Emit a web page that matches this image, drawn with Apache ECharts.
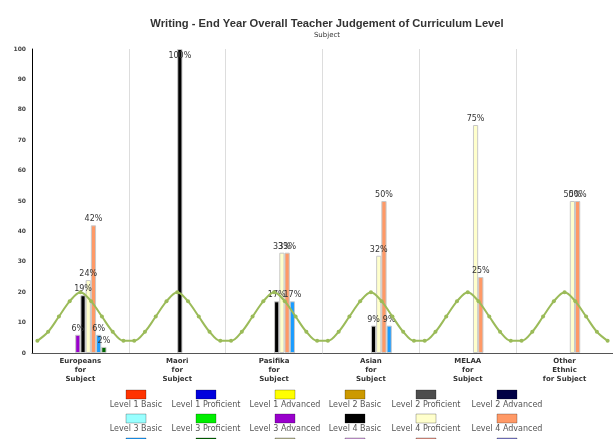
<!DOCTYPE html>
<html>
<head>
<meta charset="utf-8">
<script src="https://cdn.jsdelivr.net/npm/echarts@6/dist/echarts.min.js"></script>
<style>
  html, body { margin: 0; padding: 0; background: #fff; }
  #chart { width: 613px; height: 439px; }
</style>
</head>
<body>
<div id="chart"></div>
<script>
// Ethnic groups along the x axis
const categories = [
  'Europeans\nfor\nSubject',
  'Maori\nfor\nSubject',
  'Pasifika\nfor\nSubject',
  'Asian\nfor\nSubject',
  'MELAA\nfor\nSubject',
  'Other\nEthnic\nfor Subject'
];

// Curriculum levels (legend order) and their colours
const levelNames = [
  'Level 1 Basic', 'Level 1 Proficient', 'Level 1 Advanced',
  'Level 2 Basic', 'Level 2 Proficient', 'Level 2 Advanced',
  'Level 3 Basic', 'Level 3 Proficient', 'Level 3 Advanced',
  'Level 4 Basic', 'Level 4 Proficient', 'Level 4 Advanced',
  'Level 5 Basic', 'Level 5 Proficient', 'Level 5 Advanced',
  'Level 6 Basic', 'Level 6 Proficient', 'Level 6 Advanced'
];
const levelColors = [
  '#ff3300', '#0000dd', '#ffff00',
  '#cc9900', '#4d4d4d', '#000044',
  '#99ffff', '#00ee00', '#9900cc',
  '#000000', '#ffffcc', '#ff9966',
  '#1a9cff', '#006600', '#b3b38c',
  '#cc99d9', '#e08f80', '#7a7acc'
];

// Percentage of students at each level, per ethnic group
const level1Basic       = [0, 0, 0, 0, 0, 0];
const level1Proficient  = [0, 0, 0, 0, 0, 0];
const level1Advanced    = [0, 0, 0, 0, 0, 0];
const level2Basic       = [0, 0, 0, 0, 0, 0];
const level2Proficient  = [0, 0, 0, 0, 0, 0];
const level2Advanced    = [0, 0, 0, 0, 0, 0];
const level3Basic       = [0, 0, 0, 0, 0, 0];
const level3Proficient  = [0, 0, 0, 0, 0, 0];
const level3Advanced    = [6, 0, 0, 0, 0, 0];
const level4Basic       = [19, 100, 17, 9, 0, 0];
const level4Proficient  = [24, 0, 33, 32, 75, 50];
const level4Advanced    = [42, 0, 33, 50, 25, 50];
const level5Basic       = [6, 0, 17, 9, 0, 0];
const level5Proficient  = [2, 0, 0, 0, 0, 0];
const level5Advanced    = [0, 0, 0, 0, 0, 0];
const level6Basic       = [0, 0, 0, 0, 0, 0];
const level6Proficient  = [0, 0, 0, 0, 0, 0];
const level6Advanced    = [0, 0, 0, 0, 0, 0];

const levelValues = [
  level1Basic, level1Proficient, level1Advanced,
  level2Basic, level2Proficient, level2Advanced,
  level3Basic, level3Proficient, level3Advanced,
  level4Basic, level4Proficient, level4Advanced,
  level5Basic, level5Proficient, level5Advanced,
  level6Basic, level6Proficient, level6Advanced
];

// Background wave line, nine points per ethnic group
const waveValues = [
  4, 7, 12, 17, 20, 17, 12, 7, 4,
  4, 7, 12, 17, 20, 17, 12, 7, 4,
  4, 7, 12, 17, 20, 17, 12, 7, 4,
  4, 7, 12, 17, 20, 17, 12, 7, 4,
  4, 7, 12, 17, 20, 17, 12, 7, 4,
  4, 7, 12, 17, 20, 17, 12, 7, 4
];

// Y axis tick values
const yTicks = { min: 0, max: 100, interval: 10 };

const chart = echarts.init(document.getElementById('chart'), null, { renderer: 'canvas' });

const barSeries = levelNames.map((name, i) => ({
  name: name,
  type: 'bar',
  xAxisIndex: 0,
  yAxisIndex: 0,
  barGap: '0%',
  barCategoryGap: '3%',
  itemStyle: { color: levelColors[i], borderColor: '#c8c8c8', borderWidth: 1 },
  label: {
    show: true,
    position: 'top',
    distance: 2,
    color: '#333',
    fontFamily: 'DejaVu Sans',
    fontSize: 8,
    formatter: p => (p.value ? p.value + '%' : '')
  },
  data: levelValues[i].map(v => {
    if (!v) return '-';
    if (v >= 95) return { value: v, label: { position: 'insideTop', distance: 3 } };
    return v;
  }),
  z: 2
}));

const waveSeries = {
  name: 'wave',
  type: 'line',
  xAxisIndex: 1,
  yAxisIndex: 0,
  smooth: 0.35,
  symbol: 'circle',
  symbolSize: 4,
  lineStyle: { color: '#9bbb59', width: 2 },
  itemStyle: { color: '#9bbb59' },
  data: waveValues,
  z: 5,
  silent: true
};

// Legend drawn as swatch-above-text cells in a 6-column grid
const legendCols = [136, 206, 285, 355, 426, 507];
const legendTop = 390;
const legendRowGap = 24;
const legendGraphics = [];
levelNames.forEach((name, i) => {
  const cx = legendCols[i % 6];
  const top = legendTop + Math.floor(i / 6) * legendRowGap;
  legendGraphics.push({
    type: 'rect',
    shape: { x: cx - 10, y: top, width: 20, height: 9 },
    style: { fill: levelColors[i], stroke: 'rgba(0,0,0,0.25)', lineWidth: 1 },
    silent: true
  });
  legendGraphics.push({
    type: 'text',
    x: cx,
    y: top + 15,
    style: {
      text: name,
      fill: '#555',
      font: '8px "DejaVu Sans"',
      align: 'center',
      verticalAlign: 'middle',
      textAlign: 'center',
      textVerticalAlign: 'middle'
    },
    silent: true
  });
});

chart.setOption({
  animation: false,
  backgroundColor: '#ffffff',
  title: {
    text: 'Writing - End Year Overall Teacher Judgement of Curriculum Level',
    subtext: 'Subject',
    left: 322,
    top: 13,
    textAlign: 'center',
    itemGap: 3,
    textStyle: { fontFamily: 'Liberation Sans', fontWeight: 'bold', fontSize: 11.2, color: '#333' },
    subtextStyle: { fontFamily: 'DejaVu Sans', fontSize: 7, color: '#333' }
  },
  grid: { left: 32, right: 0, top: 49, bottom: 86, containLabel: false },
  xAxis: [
    {
      type: 'category',
      data: categories,
      boundaryGap: true,
      axisLine: { show: true, lineStyle: { color: '#555', width: 1 } },
      axisTick: { show: false },
      splitLine: { show: true, lineStyle: { color: '#dddddd', width: 1 } },
      axisLabel: {
        interval: 0,
        margin: 4,
        color: '#333',
        fontFamily: 'DejaVu Sans',
        fontWeight: 'bold',
        fontSize: 7,
        lineHeight: 9
      }
    },
    {
      type: 'category',
      data: waveValues.map((_, i) => String(i)),
      boundaryGap: true,
      show: false,
      position: 'bottom'
    }
  ],
  yAxis: {
    type: 'value',
    min: yTicks.min,
    max: yTicks.max,
    interval: yTicks.interval,
    axisLine: { show: true, lineStyle: { color: '#000', width: 1 } },
    axisTick: { show: false },
    splitLine: { show: false },
    axisLabel: {
      margin: 6,
      color: '#444',
      fontFamily: 'DejaVu Sans',
      fontWeight: 'bold',
      fontSize: 6
    }
  },
  series: barSeries.concat([waveSeries]),
  graphic: legendGraphics
});
</script>
</body>
</html>
